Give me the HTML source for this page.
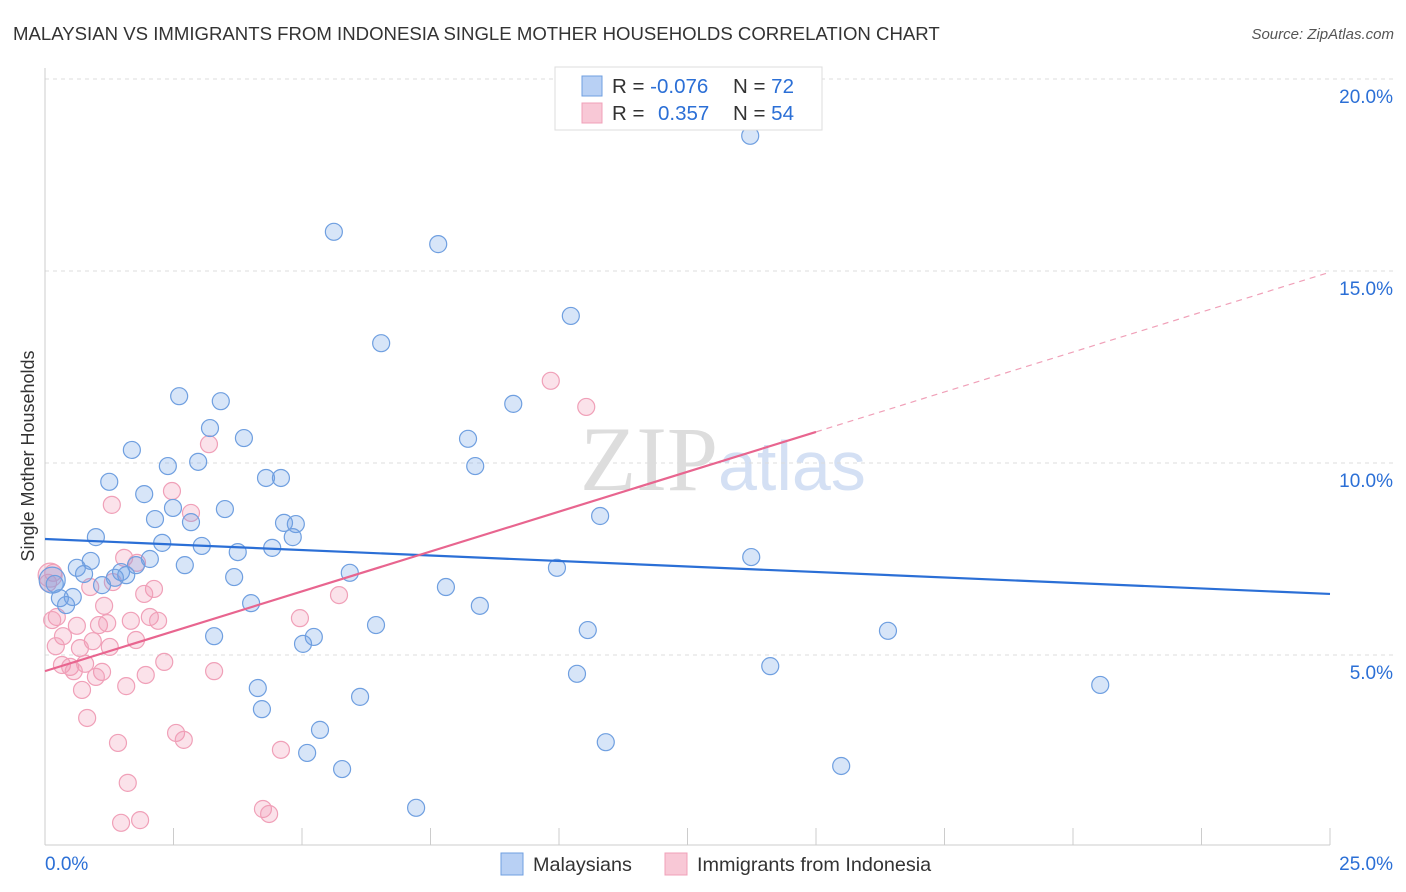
<!DOCTYPE html>
<html><head><meta charset="utf-8">
<style>
body{margin:0;background:#fff;font-family:"Liberation Sans",sans-serif;}
svg{display:block}
</style></head>
<body>
<svg id="chart" width="1406" height="892">
<text x="13" y="40" font-size="18.6" fill="#333">MALAYSIAN VS IMMIGRANTS FROM INDONESIA SINGLE MOTHER HOUSEHOLDS CORRELATION CHART</text>
<text x="1394" y="39" font-size="15" fill="#555" font-style="italic" text-anchor="end">Source: ZipAtlas.com</text>
<text transform="translate(34,456) rotate(-90)" font-size="18" fill="#333" text-anchor="middle">Single Mother Households</text>
<text x="718" y="490" font-size="92" fill="#ddd" text-anchor="end" font-family="Liberation Serif,serif">ZIP</text>
<text x="718" y="490" font-size="70" fill="#d4e0f4">atlas</text>
<g id="grid"></g><g id="pts"></g><g id="trend"></g>
<g>
<rect x="555" y="67" width="267" height="63" fill="#fff" stroke="#ddd"/>
<rect x="582" y="76" width="20" height="20" fill="#b8d0f4" stroke="#6f9fe0"/>
<rect x="582" y="103" width="20" height="20" fill="#f8c8d6" stroke="#f0a0b8"/>
<text x="612" y="93" font-size="20.5" fill="#333">R = <tspan fill="#2b6fd6">-0.076</tspan><tspan x="733">N = </tspan><tspan fill="#2b6fd6">72</tspan></text>
<text x="612" y="120" font-size="20.5" fill="#333">R = <tspan x="658" fill="#2b6fd6">0.357</tspan><tspan x="733">N = </tspan><tspan fill="#2b6fd6">54</tspan></text>
</g>
<g>
<rect x="501" y="853" width="22" height="22" fill="#b8d0f4" stroke="#6f9fe0"/>
<text x="533" y="871" font-size="19.8" fill="#333">Malaysians</text>
<rect x="665" y="853" width="22" height="22" fill="#f8c8d6" stroke="#f0a0b8"/>
<text x="697" y="871" font-size="19.8" fill="#333">Immigrants from Indonesia</text>
</g>
</svg>
<script>
const yTicks=[5,10,15,20];
const yTickLabels=["5.0%","10.0%","15.0%","20.0%"];
const xTickLabels=["0.0%","25.0%"];
const blueX=[13.72,5.62,7.65,10.23,6.54,2.61,3.42,9.11,3.21,3.87,8.23,1.69,2.39,2.98,8.37,1.25,4.30,4.59,1.93,2.49,3.50,2.14,2.84,10.80,4.65,4.88,0.99,4.82,2.28,3.05,3.75,4.42,13.74,2.04,0.89,0.62,1.77,9.96,2.72,1.48,0.76,5.93,1.58,1.36,3.68,1.11,7.80,0.19,0.14,0.54,0.29,0.41,4.01,8.46,6.44,3.29,5.23,10.56,16.40,5.02,14.11,10.35,20.53,4.14,6.13,4.22,5.35,10.91,5.10,5.78,15.49,7.22];
const blueY=[18.52,16.02,15.70,13.83,13.12,11.74,11.61,11.54,10.91,10.65,10.63,10.34,9.92,10.03,9.92,9.51,9.61,9.61,9.19,8.83,8.80,8.54,8.46,8.62,8.44,8.41,8.07,8.07,7.92,7.84,7.68,7.79,7.55,7.50,7.45,7.27,7.34,7.27,7.34,7.16,7.11,7.14,7.08,7.01,7.03,6.82,6.77,6.85,6.95,6.51,6.48,6.30,6.35,6.28,5.78,5.49,5.47,5.65,5.63,5.29,4.71,4.51,4.22,4.14,3.91,3.59,3.05,2.73,2.45,2.03,2.11,1.02];
const pinkX=[9.84,10.53,3.19,1.30,2.47,2.84,1.54,1.79,0.16,0.06,0.88,1.32,2.12,1.93,5.72,1.15,0.23,0.14,2.04,1.67,2.20,4.96,0.62,1.05,1.21,0.35,0.93,1.77,0.21,0.68,1.26,2.32,0.33,0.49,0.78,0.56,1.11,3.29,1.96,0.99,1.58,0.72,0.82,2.55,2.70,1.42,4.59,1.61,4.24,4.36,1.85,1.48,0.10];
const pinkY=[12.14,11.46,10.49,8.91,9.27,8.70,7.53,7.40,7.14,6.88,6.77,6.90,6.72,6.59,6.56,6.28,5.99,5.91,5.99,5.89,5.89,5.96,5.76,5.78,5.83,5.49,5.36,5.39,5.23,5.18,5.21,4.82,4.74,4.69,4.77,4.58,4.56,4.58,4.48,4.43,4.19,4.09,3.36,2.97,2.79,2.71,2.53,1.67,0.99,0.86,0.70,0.63,7.08];
const blueTrend=[8.02,6.59];
const pinkTrend=[4.58,10.81,14.97];
const pinkTrendX=[0,15,25];
const NS="http://www.w3.org/2000/svg";
const X=v=>45+v*51.4, Y=v=>847-v*38.4;
function mk(t,a,p){const e=document.createElementNS(NS,t);for(const k in a)e.setAttribute(k,a[k]);p.appendChild(e);return e;}
const grid=document.getElementById('grid');
yTicks.forEach((t,i)=>{
 const l=mk('line',{x1:45,x2:1394,y1:Y(t),y2:Y(t),stroke:'#ddd','stroke-dasharray':'4,4'},grid);
 
 
 const tx=mk('text',{x:1393,y:Y(t)+24,'font-size':19,fill:'#2b6fd6','text-anchor':'end'},grid);
 tx.textContent=yTickLabels[i];
 
 
});
mk('line',{x1:45,x2:45,y1:68,y2:845,stroke:'#ccc'},grid);
mk('line',{x1:45,x2:1330,y1:845,y2:845,stroke:'#ccc'},grid);
for(let i=0;i<=10;i++){const x=X(i*2.5);mk('line',{x1:x,x2:x,y1:828,y2:845,stroke:'#ccc'},grid);}
[[0,'start',45],[25,'end',1393]].forEach((d,i)=>{
 const tx=mk('text',{x:d[2],y:870,'font-size':19,fill:'#2b6fd6','text-anchor':d[1]},grid);
 tx.textContent=xTickLabels[i];
 
 
});
const pts=document.getElementById('pts');
pinkX.forEach((v,i)=>{
 const c=mk('circle',{cx:X(v),cy:Y(pinkY[i]),r:i==52?12:8.5,fill:'rgba(242,150,178,0.28)',stroke:'#f0a0b8','stroke-width':1.2},pts);
 
 
});
blueX.forEach((v,i)=>{
 const c=mk('circle',{cx:X(v),cy:Y(blueY[i]),r:i==48?13:8.5,fill:'rgba(110,160,230,0.28)',stroke:'#6f9fe0','stroke-width':1.2},pts);
 
 
});
const tr=document.getElementById('trend');
const bl=mk('line',{x1:X(0),y1:Y(blueTrend[0]),x2:X(25),y2:Y(blueTrend[1]),stroke:'#2b6fd6','stroke-width':2.2},tr);


const pl=mk('line',{x1:X(pinkTrendX[0]),y1:Y(pinkTrend[0]),x2:X(pinkTrendX[1]),y2:Y(pinkTrend[1]),stroke:'#e8658f','stroke-width':2.2},tr);


const pd=mk('line',{x1:X(pinkTrendX[1]),y1:Y(pinkTrend[1]),x2:X(pinkTrendX[2]),y2:Y(pinkTrend[2]),stroke:'#f0a0b8','stroke-width':1.2,'stroke-dasharray':'6,5'},tr);


</script>
</body></html>
